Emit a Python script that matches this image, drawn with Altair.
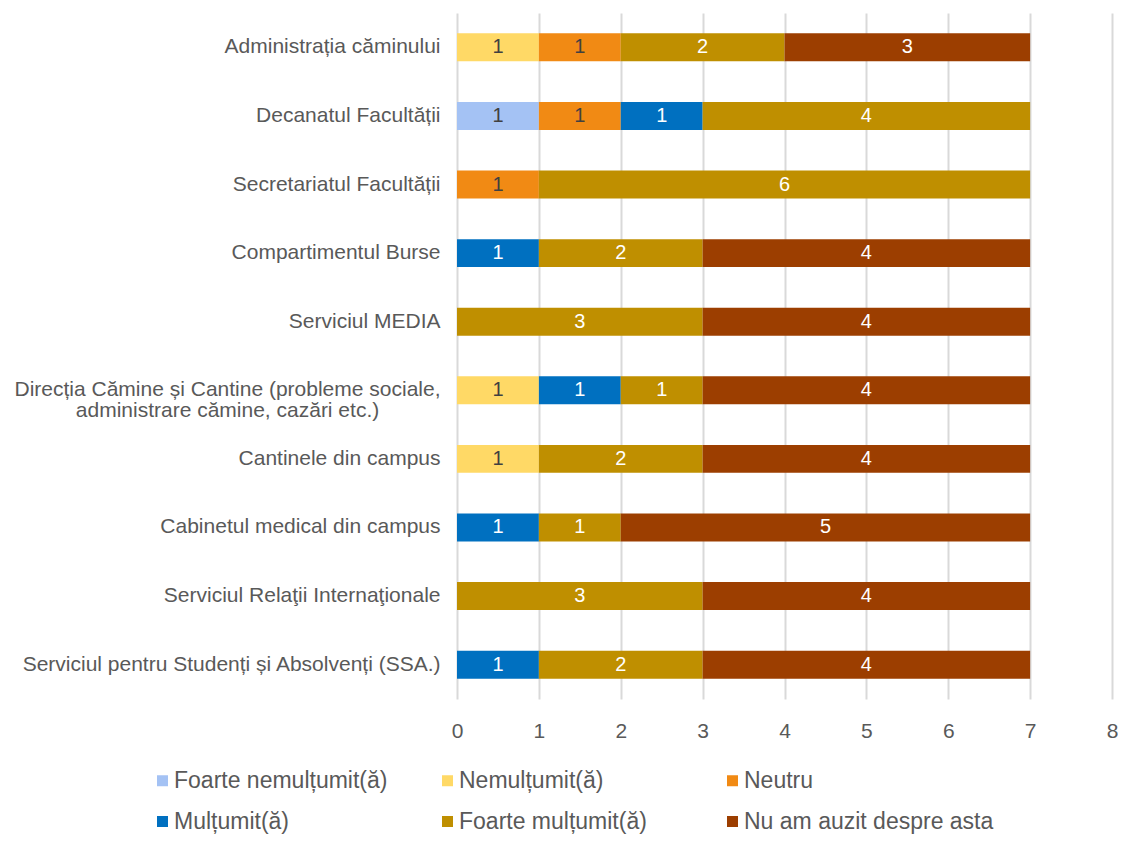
import altair as alt
import pandas as pd

services = [
    "Administrația căminului",
    "Decanatul Facultății",
    "Secretariatul Facultății",
    "Compartimentul Burse",
    "Serviciul MEDIA",
    "Direcția Cămine și Cantine  (probleme sociale, administrare cămine, cazări etc.)",
    "Cantinele din campus",
    "Cabinetul medical din campus",
    "Serviciul Relaţii Internaţionale",
    "Serviciul pentru Studenți și Absolvenți (SSA.)",
]

series_names = [
    "Foarte nemulțumit(ă)",
    "Nemulțumit(ă)",
    "Neutru",
    "Mulțumit(ă)",
    "Foarte mulțumit(ă)",
    "Nu am auzit despre asta",
]
series_colors = ["#A4C2F4", "#FFD966", "#F18A14", "#0070C0", "#BF8F00", "#9C3E00"]

foarte_nemultumit = [0, 1, 0, 0, 0, 0, 0, 0, 0, 0]
nemultumit        = [1, 0, 0, 0, 0, 1, 1, 0, 0, 0]
neutru            = [1, 1, 1, 0, 0, 0, 0, 0, 0, 0]
multumit          = [0, 1, 0, 1, 0, 1, 0, 1, 0, 1]
foarte_multumit   = [2, 4, 6, 2, 3, 1, 2, 1, 3, 2]
nu_am_auzit       = [3, 0, 0, 4, 4, 4, 4, 5, 4, 4]

x_ticks = [0, 1, 2, 3, 4, 5, 6, 7, 8]

series_values = [foarte_nemultumit, nemultumit, neutru, multumit, foarte_multumit, nu_am_auzit]

rows = []
for si, (name, vals) in enumerate(zip(series_names, series_values)):
    for ci, svc in enumerate(services):
        if vals[ci] > 0:
            rows.append({"service": svc, "series": name, "value": vals[ci], "order": si})
df = pd.DataFrame(rows)

FONT = "Liberation Sans"
GRAY = "#595959"
wrap_name = services[5]

base = alt.Chart(df).transform_stack(
    stack="value",
    groupby=["service"],
    as_=["x0", "x1"],
    sort=[alt.SortField("order", order="ascending")],
).transform_calculate(mid="(datum.x0 + datum.x1) / 2")

y_enc = alt.Y(
    "service:N",
    sort=services,
    title=None,
    scale=alt.Scale(paddingInner=0.593, paddingOuter=0.297),
    axis=alt.Axis(
        domain=False,
        ticks=False,
        grid=False,
        labelFont=FONT,
        labelFontSize=21,
        labelColor=GRAY,
        labelLimit=0,
        labelLineHeight=21,
        labelExpr=(
            "datum.label == '" + wrap_name + "' ? "
            "['Direcția Cămine și Cantine  (probleme sociale,', 'administrare cămine, cazări etc.)'] : datum.label"
        ),
        labelAlign={"condition": {"test": "indexof(datum.label, 'Direcția') == 0", "value": "center"}, "value": "right"},
        labelPadding={"condition": {"test": "indexof(datum.label, 'Direcția') == 0", "value": 230}, "value": 17},
    ),
)

x_scale = alt.Scale(domain=[0, 8], nice=False)

bars = base.mark_bar().encode(
    y=y_enc,
    x=alt.X(
        "x0:Q",
        scale=x_scale,
        title=None,
        axis=alt.Axis(
            values=x_ticks,
            format="d",
            grid=True,
            gridColor="#D9D9D9",
            gridWidth=2,
            domain=False,
            ticks=False,
            labelFlush=False,
            labelBound=False,
            labelFont=FONT,
            labelFontSize=21,
            labelColor=GRAY,
            labelPadding=21,
        ),
    ),
    x2="x1:Q",
    color=alt.Color(
        "series:N",
        scale=alt.Scale(domain=series_names, range=series_colors),
        legend=alt.Legend(
            title=None,
            orient="none",
            legendX=-306,
            legendY=756,
            direction="horizontal",
            columns=3,
            gridAlign="all",
            symbolType="square",
            symbolSize=121,
            symbolStrokeWidth=0,
            labelFont=FONT,
            labelFontSize=23,
            labelColor=GRAY,
            labelLimit=0,
            labelOffset=0,
            columnPadding=12,
            rowPadding=17,
        ),
    ),
)

text_dark = base.transform_filter("datum.order < 3").mark_text(
    font=FONT, fontSize=20, color="#404040", baseline="middle"
).encode(y=alt.Y("service:N", sort=services), x=alt.X("mid:Q", scale=x_scale), text="value:Q")

text_light = base.transform_filter("datum.order >= 3").mark_text(
    font=FONT, fontSize=20, color="#FFFFFF", baseline="middle"
).encode(y=alt.Y("service:N", sort=services), x=alt.X("mid:Q", scale=x_scale), text="value:Q")

chart = alt.layer(bars, text_dark, text_light).properties(
    width=655,
    height=686,
    autosize=alt.AutoSizeParams(type="none"),
    padding={"left": 449, "top": 5, "right": 6, "bottom": 136},
).configure(background="white").configure_view(stroke=None)

chart.save("out.html", embed_options={"renderer": "svg", "actions": False})
